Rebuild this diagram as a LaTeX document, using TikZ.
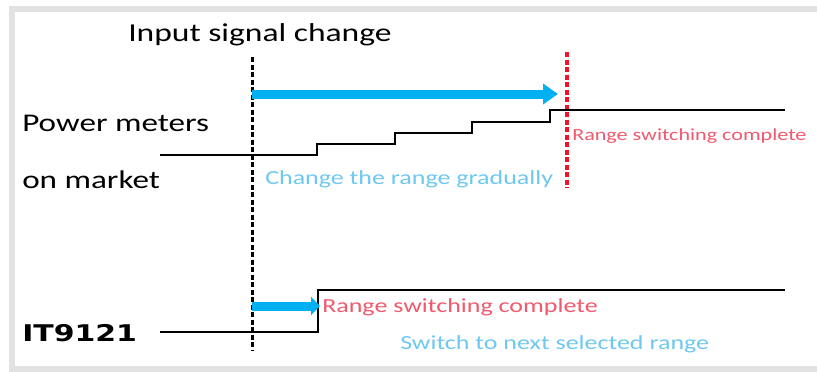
\documentclass[tikz,border=0pt]{standalone}
\usepackage{fontspec}
\setmainfont{Carlito}
\newfontfamily\modelfont{DejaVu Sans}
\usepackage{xcolor}
\usetikzlibrary{arrows.meta}
\definecolor{sigblue}{RGB}{0,176,240}
\definecolor{txtblue}{RGB}{110,200,240}
\definecolor{sigred}{RGB}{240,20,40}
\definecolor{txtred}{RGB}{240,90,110}
\definecolor{framegray}{RGB}{226,226,226}

\begin{document}
\begin{tikzpicture}
                \tikzset{x={(1pt, 0pt)}, y={(0pt, -1pt)}}
                \tikzset{level/.style={black, line width=2.5pt},
                         marker/.style={line width=3pt, dash pattern=on 5pt off 2.5pt},
                         shift arrow/.style={sigblue, line width=9pt, -{Triangle[length=15pt, width=20pt]}},
                         label/.style={inner sep=0pt, anchor=base west, xscale=1.3}}
                \useasboundingbox (0, 0) rectangle (817, 372);
                \fill[white] (0, 0) rectangle (817, 372);
                % frame
                \draw[framegray, line width=6pt] (830, 8.5) -- (11.5, 8.5) -- (11.5, 369) -- (830, 369);
                % texts
                \node[label, font=\fontsize{25.8}{30}\selectfont] (title) at (128, 41) {Input signal change};
                \node[label, font=\fontsize{25.5}{30}\selectfont] (market1) at (22, 131) {Power meters};
                \node[label, font=\fontsize{25.5}{30}\selectfont] (market2) at (22, 188) {on market};
                \node[label, font=\modelfont\bfseries\fontsize{23}{28}\selectfont] (model) at (22, 341) {IT9121};
                \node[label, txtblue, font=\fontsize{20}{25}\selectfont] (gradual) at (265, 184) {Change the range gradually};
                \node[label, txtred, font=\fontsize{17}{20}\selectfont] (done1) at (572, 140) {Range switching complete};
                \node[label, txtred, font=\fontsize{20}{25}\selectfont] (done2) at (322, 312) {Range switching complete};
                \node[label, txtblue, font=\fontsize{20}{25}\selectfont] (next) at (400, 349) {Switch to next selected range};
                % time markers
                \coordinate (in top) at (252, 57);
                \coordinate (in bot) at (252, 350);
                \coordinate (red top) at (567, 52);
                \coordinate (red bot) at (567, 188);
                \draw[marker] (in top) -- (in bot);
                \draw[marker, sigred, line width=4pt] (red top) -- (red bot);
                % power meters on market: stepwise
                \coordinate (m0) at (160, 155);
                \coordinate (m5) at (785, 110);
                \draw[level] (m0) -- (317, 155) -- (317, 144) -- (395, 144) -- (395, 133)
                             -- (472, 133) -- (472, 122) -- (550, 122) -- (550, 110) -- (m5);
                % IT9121: single step
                \coordinate (t0) at (160, 332);
                \coordinate (t1) at (785, 290);
                \draw[level] (t0) -- (318, 332) -- (318, 290) -- (t1);
                % arrows
                \coordinate (a0) at (252, 94);
                \coordinate (a1) at (558, 94);
                \coordinate (b0) at (252, 306);
                \coordinate (b1) at (320, 306);
                \draw[shift arrow] (a0) -- (a1);
                \draw[shift arrow, -{Triangle[length=9pt, width=18pt]}] (b0) -- (b1);
            \end{tikzpicture}
\end{document}
